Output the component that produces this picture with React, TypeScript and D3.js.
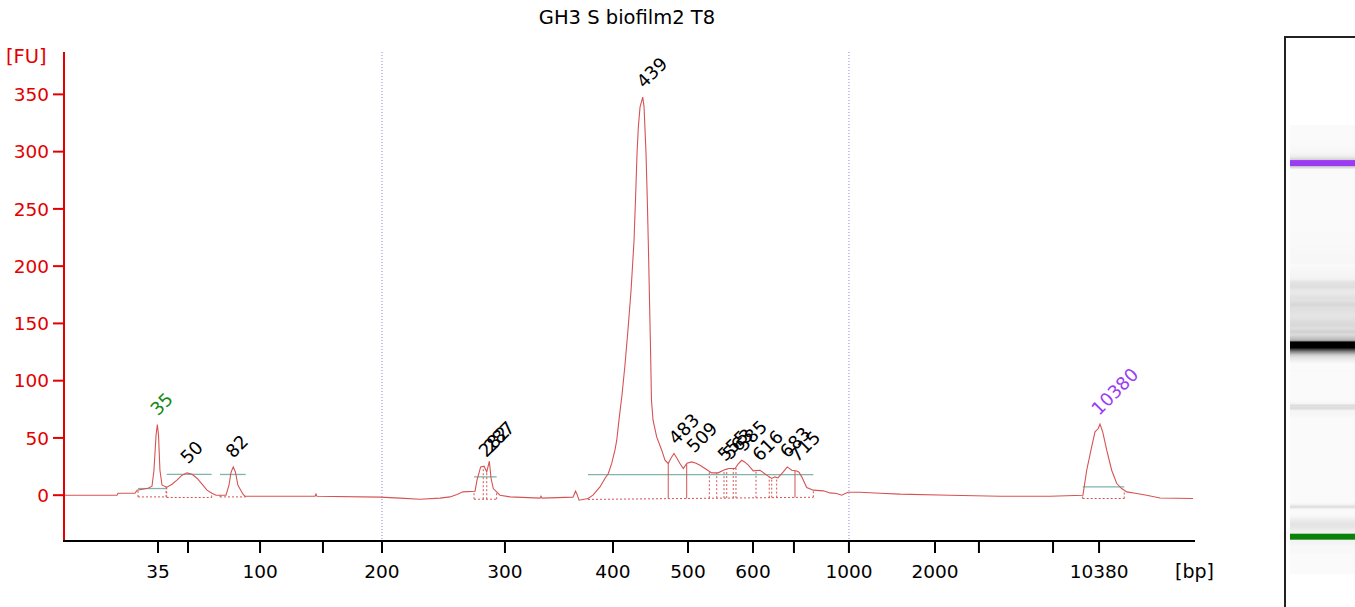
import React from "react";
import * as d3 from "d3";

// ---- Data ----
const title = "GH3 S biofilm2 T8";

// ladder: fragment size (bp) -> migration time (s)
const ladderSizes = [35, 50, 75, 100, 150, 200, 300, 400, 500, 600, 700, 1000, 2000, 3000, 7000, 10380];
const ladderTimes = [47.23, 49.54, 52.09, 55.08, 59.92, 64.46, 73.92, 82.23, 88.0, 93.0, 96.15, 100.38, 107.0, 110.38, 116.08, 119.62];

const tickSizes = [35, 50, 100, 150, 200, 300, 400, 500, 600, 700, 1000, 2000, 3000, 7000, 10380];
const tickLabels = ["35", "", "100", "", "200", "300", "400", "500", "600", "", "1000", "2000", "", "", "10380"];
const guideSizes = [200, 1000];
const yTicks = [0, 50, 100, 150, 200, 250, 300, 350];

// electropherogram trace: time (s) and fluorescence (FU)
const traceTime = [
  40.0, 44.08, 44.15, 45.46, 45.62, 46.46, 46.77, 46.92, 47.08, 47.18,
  47.27, 47.38, 47.54, 47.92, 48.31, 48.69, 49.08, 49.46, 49.85, 50.23,
  50.62, 51.0, 51.38, 51.69, 52.46, 52.69, 52.85, 53.02, 53.19, 53.38,
  53.77, 53.92, 59.31, 59.38, 59.46, 64.31, 65.85, 67.38, 68.92, 69.69,
  70.23, 70.69, 71.62, 71.77, 72.05, 72.31, 72.52, 72.72, 72.85, 73.02,
  73.54, 74.31, 76.62, 76.69, 76.77, 79.15, 79.35, 79.46, 79.62, 80.31,
  80.69, 81.23, 81.62, 81.87, 82.13, 82.38, 82.52, 82.69, 82.92, 83.15,
  83.38, 83.62, 83.85, 83.96, 84.08, 84.18, 84.31, 84.52, 84.62, 84.77,
  84.87, 84.96, 85.04, 85.12, 85.19, 85.31, 85.59, 85.98, 86.23, 86.48,
  86.69, 86.92, 87.15, 87.38, 87.64, 87.92, 88.28, 88.62, 88.92, 89.31,
  89.82, 90.33, 90.72, 91.1, 91.62, 91.85, 92.13, 92.38, 92.64, 93.02,
  93.54, 94.05, 94.44, 94.69, 94.92, 95.33, 95.64, 95.98, 96.36, 96.54,
  96.75, 97.13, 97.64, 98.41, 98.92, 99.44, 99.82, 100.31, 101.23, 102.77,
  104.31, 108.15, 112.0, 115.85, 118.38, 118.67, 119.05, 119.31, 119.56, 119.69,
  119.9, 120.21, 120.59, 120.98, 121.36, 121.75, 122.52, 123.28, 124.31, 126.85,
];
const traceFU = [
  0, 0, 1.7, 1.7, 4.4, 6.1, 7.9, 21.8, 52.4, 61.7,
  52.4, 21.8, 8.7, 7.0, 9.6, 13.1, 17.5, 19.5, 18.3, 14.8,
  9.6, 4.4, 1.7, 0, 0, 8.7, 20.1, 24.7, 20.1, 8.7,
  0.9, -0.9, -0.9, 0.9, -0.9, -1.7, -2.6, -3.5, -2.6, -1.5,
  0.6, 2.9, 3.5, 13.1, 24.7, 25.3, 20.3, 29.7, 14.8, 5.8,
  0, -1.5, -2.6, -0.9, -2.6, -1.7, 3.5, 0.9, -4.4, -2.9,
  0, 7.2, 14.8, 18.9, 27.7, 39.3, 48.0, 65.5, 87.3, 113.5,
  144.0, 178.9, 222.6, 257.5, 298.5, 321.5, 338.9, 347.6, 338.9, 298.5,
  257.5, 213.8, 170.2, 126.6, 82.9, 65.5, 50.9, 39.3, 30.5, 27.7,
  32.3, 36.4, 32.3, 27.7, 23.3, 27.9, 29.1, 27.9, 26.2, 23.3,
  19.5, 19.5, 21.8, 23.3, 23.3, 27.1, 30.5, 28.8, 26.2, 21.2,
  21.8, 17.5, 14.6, 16.0, 15.1, 20.3, 24.7, 21.8, 21.2, 20.1,
  16.0, 6.7, 4.4, 3.8, 2.0, 1.5, 0, 2.6, 2.6, 1.7,
  0.9, 0, -0.9, -0.9, 0, 21.8, 42.2, 55.3, 58.2, 62.0,
  55.3, 39.3, 21.8, 10.2, 5.8, 2.9, 1.5, 0, -2.4, -2.9,
];

// called peaks
const peakSizes = [35, 50, 82, 282, 287, 439, 483, 509, 555, 563, 585, 616, 683, 715, 10380];
const peakFU = [61.7, 19.5, 24.7, 25.3, 29.7, 347.6, 36.4, 29.1, 21.8, 23.3, 30.5, 21.8, 24.7, 21.2, 62.0];
const peakKinds = ["lower", "", "", "", "", "", "", "", "", "", "", "", "", "", "upper"];

// integration windows (s) with threshold level and baseline (FU)
const winStart = [45.69, 47.9, 52.0, 71.54, 80.31, 118.36];
const winEnd = [47.85, 51.36, 53.98, 73.28, 97.64, 121.56];
const winLevel = [5.8, 18.1, 18.1, 16.0, 17.9, 7.2];
const winBaseStart = [-1.5, -2.0, -1.5, -3.5, -3.7, -2.9];
const winBaseEnd = [-1.5, -2.0, -1.5, -3.5, -1.8, -2.9];

// peak boundaries inside windows (s)
const splitTimes = [72.25, 72.52, 86.48, 87.9, 89.64, 90.21, 90.77, 90.98, 91.48, 91.69, 93.23, 94.25, 94.44, 94.82, 96.23];
const splitSolid = [false, false, true, true, false, false, false, false, false, false, false, false, false, false, true];

// ---- Styles ----
const FONT = "'DejaVu Sans', Verdana, sans-serif";
const RED = "#e30000";
const TRACE = "#d65353";
const TEAL = "#7fb5ad";
const GUIDE = "#8a8ae0";
const markerColor: Record<string, string> = { lower: "#138a13", upper: "#9d3cf5", "": "#000" };
const markerBand: Record<string, string> = { lower: "#0a820a", upper: "#9b3cf2" };

export default function App() {
  const W = 1355;
  const H = 607;
  const x = d3.scaleLinear().domain([40, 127]).range([64, 1195]);
  const y = d3.scaleLinear().domain([-40, 387]).range([541, 52]);
  const sizeToTime = d3.scaleLinear().domain(ladderSizes.map(Math.log)).range(ladderTimes);
  const xs = (s: number) => x(sizeToTime(Math.log(s)));

  const bis = d3.bisector((d: number) => d).left;
  const fuAt = (t: number) => {
    let i = bis(traceTime, t);
    if (i <= 0) return traceFU[0];
    if (i >= traceTime.length) return traceFU[traceFU.length - 1];
    const t0 = traceTime[i - 1], t1 = traceTime[i];
    const f = (t - t0) / (t1 - t0);
    return traceFU[i - 1] + f * (traceFU[i] - traceFU[i - 1]);
  };

  const pts: [number, number][] = traceTime.map((t, i) => [t, traceFU[i]]);
  const line = d3.line<[number, number]>().x((d) => x(d[0])).y((d) => y(d[1]));

  // gel lane
  const gelY = d3.scaleLinear().domain([40, 127]).range([574, 125]);
  const gelX0 = 1290;
  const rows: { y: number; c: string }[] = [];
  for (let py = Math.ceil(gelY(127)); py < gelY(40); py++) {
    const t = gelY.invert(py + 0.5);
    const fu = Math.max(0, fuAt(t));
    const g = Math.round(250 * (1 - Math.min(1, fu / 220)));
    rows.push({ y: py, c: `rgb(${g},${g},${g})` });
  }

  const winBase = (i: number, t: number) =>
    winBaseStart[i] + ((t - winStart[i]) / (winEnd[i] - winStart[i])) * (winBaseEnd[i] - winBaseStart[i]);
  const winOf = (t: number) => winStart.findIndex((s, i) => t >= s && t <= winEnd[i]);

  return (
    <svg
      width={W}
      height={H}
      style={{ position: "absolute", left: 0, top: 0, display: "block", background: "#fff" }}
      fontFamily={FONT}
    >
      <rect x={0} y={0} width={W} height={H} fill="#fff" />
      {/* title */}
      <text x={627} y={24} textAnchor="middle" fontSize={19.5} fill="#000">
        {title}
      </text>

      {/* guide lines */}
      {guideSizes.map((s) => (
        <line key={s} x1={xs(s)} x2={xs(s)} y1={52} y2={541} stroke={GUIDE} strokeWidth={1} strokeDasharray="1,2" />
      ))}

      {/* integration windows */}
      {winStart.map((s, i) => (
        <g key={"w" + i}>
          <line x1={x(s)} x2={x(winEnd[i])} y1={y(winBaseStart[i])} y2={y(winBaseEnd[i])} stroke={TRACE} strokeWidth={1} strokeDasharray="2,2" />
          <line x1={x(s)} x2={x(s)} y1={y(winBaseStart[i])} y2={y(fuAt(s))} stroke={TRACE} strokeWidth={1} strokeDasharray="2,2" />
          <line x1={x(winEnd[i])} x2={x(winEnd[i])} y1={y(winBaseEnd[i])} y2={y(fuAt(winEnd[i]))} stroke={TRACE} strokeWidth={1} strokeDasharray="2,2" />
          <line x1={x(s)} x2={x(winEnd[i])} y1={y(winLevel[i])} y2={y(winLevel[i])} stroke={TEAL} strokeWidth={1.3} />
        </g>
      ))}
      {splitTimes.map((t, i) => {
        const w = winOf(t);
        const b = w >= 0 ? winBase(w, t) : -2;
        return (
          <line
            key={"s" + i}
            x1={x(t)}
            x2={x(t)}
            y1={y(b)}
            y2={y(fuAt(t))}
            stroke={TRACE}
            strokeWidth={1}
            strokeDasharray={splitSolid[i] ? undefined : "2,2"}
          />
        );
      })}

      {/* trace */}
      <path d={line(pts) || ""} fill="none" stroke={TRACE} strokeWidth={1.1} />

      {/* peak labels */}
      {peakSizes.map((s, i) => {
        const px = xs(s);
        const py = y(peakFU[i]) - 8;
        return (
          <text
            key={"p" + i}
            transform={`translate(${px},${py}) rotate(-45)`}
            fontSize={18}
            fill={markerColor[peakKinds[i]]}
          >
            {String(s)}
          </text>
        );
      })}

      {/* y axis */}
      <line x1={64} x2={64} y1={52} y2={542} stroke={RED} strokeWidth={2} />
      {yTicks.map((v) => (
        <g key={"y" + v}>
          <line x1={53} x2={64} y1={y(v)} y2={y(v)} stroke={RED} strokeWidth={2} />
          <text x={49} y={y(v)} dy="0.36em" textAnchor="end" fontSize={18.5} fill={RED}>
            {v}
          </text>
        </g>
      ))}
      <text x={6} y={63} fontSize={19.5} fill={RED}>
        [FU]
      </text>

      {/* x axis */}
      <line x1={63} x2={1195} y1={541} y2={541} stroke="#000" strokeWidth={2} />
      {tickSizes.map((s, i) => (
        <g key={"x" + s}>
          <line x1={xs(s)} x2={xs(s)} y1={541} y2={553} stroke="#000" strokeWidth={2} />
          {tickLabels[i] && (
            <text x={xs(s)} y={578} textAnchor="middle" fontSize={18.5} fill="#000">
              {tickLabels[i]}
            </text>
          )}
        </g>
      ))}
      <text x={1175} y={578} fontSize={19} fill="#000">
        [bp]
      </text>

      {/* gel lane */}
      {rows.map((r) => (
        <rect key={"g" + r.y} x={gelX0} y={r.y} width={W - gelX0} height={1} fill={r.c} />
      ))}
      {peakSizes.map((s, i) =>
        peakKinds[i] ? (
          <rect
            key={"m" + i}
            x={gelX0}
            y={gelY(sizeToTime(Math.log(s))) - 3}
            width={W - gelX0}
            height={6}
            fill={markerBand[peakKinds[i]]}
          />
        ) : null
      )}
      <line x1={1285} x2={1285} y1={37} y2={H} stroke="#222" strokeWidth={2} />
      <line x1={1284} x2={W} y1={37} y2={37} stroke="#222" strokeWidth={2} />
    </svg>
  );
}
